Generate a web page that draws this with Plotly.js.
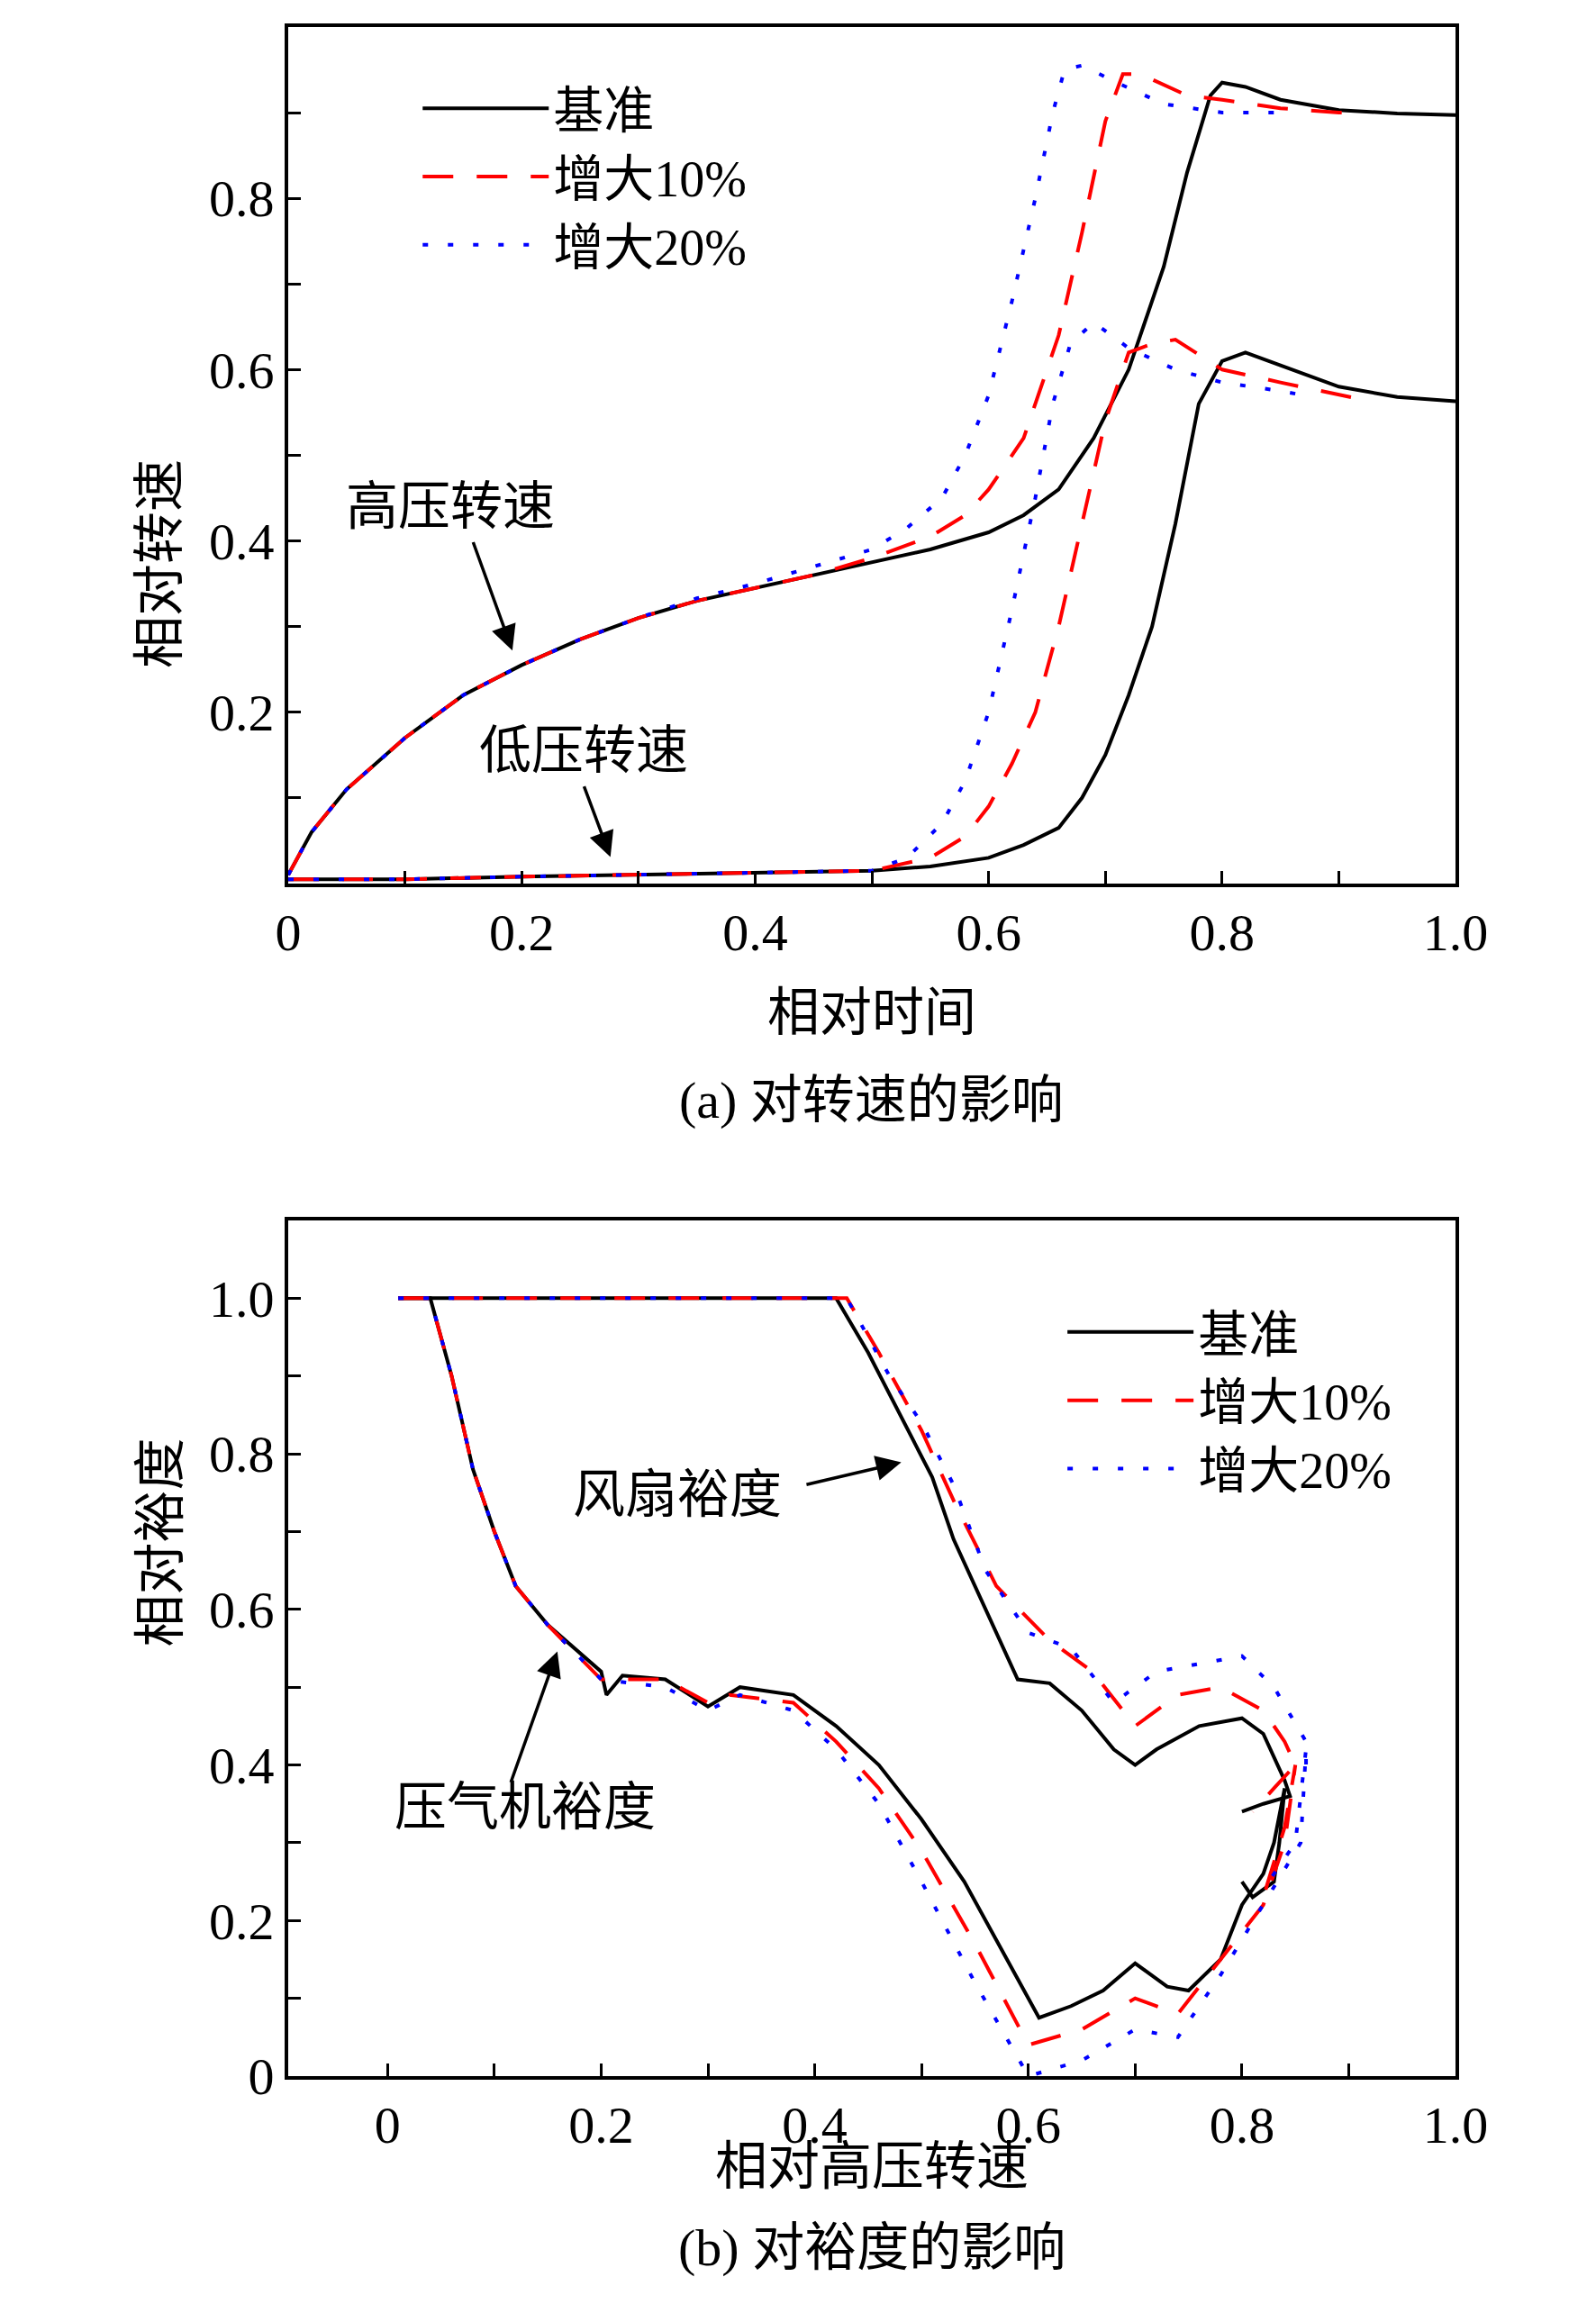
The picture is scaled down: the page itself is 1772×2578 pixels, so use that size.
<!DOCTYPE html>
<html><head><meta charset="utf-8">
<script src="https://cdn.plot.ly/plotly-3.0.1.min.js"></script>
<style>body{margin:0}#chart{width:1772px;height:2578px}</style>
</head><body><div id="chart"></div>
<script>
// (a) speed vs relative time
const hpBaseX = [0,0.02,0.05,0.1,0.15,0.2,0.25,0.3,0.35,0.4,0.45,0.5,0.55,0.6,0.63,0.66,0.69,0.72,0.75,0.77,0.79,0.8,0.82,0.85,0.9,0.95,1.0];
const hpBaseY = [0.01,0.06,0.11,0.17,0.22,0.255,0.285,0.31,0.33,0.345,0.36,0.375,0.39,0.41,0.43,0.46,0.52,0.6,0.72,0.83,0.92,0.935,0.93,0.915,0.903,0.899,0.897];
const hp10X = [0,0.02,0.05,0.1,0.15,0.2,0.25,0.3,0.35,0.4,0.45,0.5,0.55,0.58,0.6,0.63,0.66,0.68,0.7,0.715,0.73,0.77,0.8,0.85,0.9,0.92];
const hp10Y = [0.01,0.06,0.11,0.17,0.22,0.255,0.285,0.31,0.33,0.345,0.36,0.38,0.405,0.43,0.46,0.52,0.64,0.76,0.89,0.945,0.945,0.92,0.915,0.905,0.9,0.9];
const hp20X = [0,0.02,0.05,0.1,0.15,0.2,0.25,0.3,0.35,0.4,0.45,0.5,0.53,0.56,0.58,0.6,0.62,0.64,0.655,0.665,0.68,0.71,0.75,0.8,0.85];
const hp20Y = [0.01,0.06,0.11,0.17,0.22,0.255,0.285,0.31,0.333,0.35,0.37,0.39,0.415,0.45,0.5,0.57,0.68,0.8,0.9,0.95,0.955,0.935,0.91,0.9,0.9];
const lpBaseX = [0,0.1,0.2,0.3,0.4,0.5,0.55,0.6,0.63,0.66,0.68,0.7,0.72,0.74,0.76,0.78,0.8,0.82,0.85,0.9,0.95,1.0];
const lpBaseY = [0.005,0.005,0.008,0.01,0.012,0.015,0.02,0.03,0.045,0.065,0.1,0.15,0.22,0.3,0.42,0.56,0.61,0.62,0.605,0.58,0.568,0.563];
const lp10X = [0,0.1,0.2,0.3,0.4,0.5,0.55,0.58,0.6,0.62,0.64,0.66,0.68,0.7,0.72,0.74,0.76,0.8,0.85,0.9,0.92];
const lp10Y = [0.005,0.005,0.008,0.01,0.012,0.015,0.03,0.055,0.09,0.14,0.2,0.3,0.42,0.54,0.62,0.63,0.635,0.6,0.585,0.57,0.565];
const lp20X = [0,0.1,0.2,0.3,0.4,0.5,0.53,0.56,0.58,0.6,0.62,0.64,0.655,0.67,0.69,0.72,0.76,0.8,0.85,0.87];
const lp20Y = [0.005,0.005,0.008,0.01,0.012,0.015,0.03,0.07,0.12,0.2,0.32,0.45,0.56,0.63,0.655,0.625,0.6,0.585,0.575,0.57];

// (b) margin vs relative HP speed
const fanBaseX = [0.01,0.42,0.45,0.48,0.51,0.53,0.56,0.59,0.62,0.65,0.68,0.7,0.72,0.76,0.8,0.82,0.84,0.845,0.82,0.8];
const fanBaseY = [1,1,0.93,0.85,0.77,0.69,0.6,0.51,0.505,0.47,0.42,0.4,0.42,0.45,0.46,0.44,0.38,0.36,0.35,0.34];
const fan10X = [0.01,0.43,0.46,0.5,0.53,0.57,0.62,0.66,0.7,0.74,0.78,0.82,0.84,0.85,0.83,0.81];
const fan10Y = [1,1,0.93,0.83,0.74,0.63,0.56,0.52,0.45,0.49,0.5,0.47,0.43,0.4,0.37,0.34];
const fan20X = [0.01,0.43,0.47,0.5,0.53,0.56,0.6,0.64,0.68,0.72,0.76,0.8,0.83,0.86,0.86];
const fan20Y = [1,1,0.9,0.84,0.76,0.65,0.57,0.55,0.48,0.52,0.53,0.54,0.5,0.43,0.38];
const compBaseX = [0.01,0.04,0.06,0.08,0.1,0.12,0.15,0.2,0.205,0.22,0.26,0.3,0.33,0.38,0.42,0.46,0.5,0.54,0.58,0.61,0.64,0.67,0.7,0.73,0.75,0.78,0.8,0.82,0.83,0.84,0.835,0.83,0.81,0.8];
const compBaseY = [1,1,0.9,0.78,0.7,0.63,0.58,0.52,0.49,0.515,0.51,0.475,0.5,0.49,0.45,0.4,0.33,0.25,0.15,0.075,0.09,0.11,0.145,0.115,0.11,0.15,0.22,0.26,0.3,0.37,0.3,0.25,0.23,0.25];
const comp10X = [0.01,0.04,0.06,0.08,0.1,0.12,0.15,0.2,0.26,0.3,0.32,0.38,0.42,0.46,0.5,0.55,0.6,0.65,0.7,0.74,0.78,0.82,0.84,0.85,0.84,0.82,0.81];
const comp10Y = [1,1,0.9,0.78,0.7,0.63,0.58,0.51,0.51,0.48,0.49,0.48,0.43,0.37,0.29,0.17,0.04,0.06,0.1,0.08,0.15,0.22,0.3,0.4,0.32,0.23,0.24];
const comp20X = [0.01,0.04,0.06,0.08,0.1,0.12,0.15,0.2,0.26,0.3,0.33,0.38,0.42,0.46,0.5,0.55,0.6,0.65,0.7,0.74,0.78,0.82,0.855,0.86,0.85,0.82];
const comp20Y = [1,1,0.9,0.78,0.7,0.63,0.58,0.51,0.5,0.47,0.49,0.47,0.42,0.35,0.25,0.12,0.0,0.02,0.06,0.05,0.13,0.22,0.3,0.42,0.3,0.24];

const names = ['基准','增大10%','增大20%'];
const styles = [
  {color:'black', width:4, dash:'solid'},
  {color:'#ff0000', width:4, dash:'34px,26px'},
  {color:'#0000ff', width:4, dash:'6px,22px'}
];
function tr(x, y, i, ax, leg, show) {
  return {x:x, y:y, xaxis:ax[0], yaxis:ax[1], mode:'lines', name:names[i],
    line:styles[i], showlegend:show, legend:leg};
}
const axA = ['x','y'], axB = ['x2','y2'];
const data = [
  tr(hpBaseX,hpBaseY,0,axA,'legend',true), tr(hp10X,hp10Y,1,axA,'legend',true), tr(hp20X,hp20Y,2,axA,'legend',true),
  tr(lpBaseX,lpBaseY,0,axA,'legend',false), tr(lp10X,lp10Y,1,axA,'legend',false), tr(lp20X,lp20Y,2,axA,'legend',false),
  tr(fanBaseX,fanBaseY,0,axB,'legend2',true), tr(fan10X,fan10Y,1,axB,'legend2',true), tr(fan20X,fan20Y,2,axB,'legend2',true),
  tr(compBaseX,compBaseY,0,axB,'legend2',false), tr(comp10X,comp10Y,1,axB,'legend2',false), tr(comp20X,comp20Y,2,axB,'legend2',false)
];

const FONT = 'Liberation Serif, Noto Sans CJK SC';
const tenths = [0,0.1,0.2,0.3,0.4,0.5,0.6,0.7,0.8,0.9,1.0];
const lbl = v => (Math.round(v*10)%2 ? '' : (v===0 ? '0' : v.toFixed(1)));
function axis(domain, range, anchor, vals, texts) {
  return {domain:domain, range:range, anchor:anchor, showline:true, mirror:true, linecolor:'black', linewidth:4,
    ticks:'inside', ticklen:14, tickwidth:3, tickcolor:'black', showgrid:false, zeroline:false,
    tickvals:vals, ticktext:texts, tickfont:{family:FONT, size:58, color:'black'}};
}
const xd = [0.1806, 0.912];
const topY = tenths.slice(1);
const layout = {
  width:1772, height:2578, margin:{l:0,r:0,t:0,b:0}, paper_bgcolor:'white', plot_bgcolor:'white',
  font:{family:FONT, color:'black'},
  xaxis: axis(xd, [0,1], 'y', tenths, tenths.map(lbl)),
  yaxis: axis([0.6195,0.9884], [0,1], 'x', topY, topY.map(v => (Math.round(v*10)%2 ? '' : v.toFixed(1)))),
  xaxis2: axis(xd, [-0.093,1.0], 'y2', tenths, tenths.map(lbl)),
  yaxis2: axis([0.1059,0.4744], [0,1.1], 'x2', tenths, tenths.map(lbl)),
  legend:{x:0.262, y:0.97, xanchor:'left', yanchor:'top', bgcolor:'rgba(0,0,0,0)', itemwidth:140,
    tracegroupgap:0, font:{family:FONT, size:56, color:'black'}},
  legend2:{x:0.666, y:0.443, xanchor:'left', yanchor:'top', bgcolor:'rgba(0,0,0,0)', itemwidth:140,
    font:{family:FONT, size:56, color:'black'}},
  annotations:[]
};
const A = layout.annotations;
function txt(x, y, t, ref, extra) {
  A.push(Object.assign({x:x, y:y, xref:ref[0], yref:ref[1], text:t, showarrow:false,
    font:{family:FONT, size:58, color:'black'}}, extra||{}));
}
function arrow(x0, y0, x1, y1, ref) {
  A.push({x:x1, y:y1, ax:x0, ay:y0, xref:ref[0], yref:ref[1], axref:ref[0], ayref:ref[1], text:'',
    showarrow:true, arrowhead:2, arrowsize:1.6, arrowwidth:3.5, arrowcolor:'black'});
}
const pa = ['paper','paper'];
txt(0.139, 0.44, '高压转速', axA);
arrow(0.158, 0.40, 0.192, 0.272, axA);
txt(0.253, 0.155, '低压转速', axA);
arrow(0.253, 0.115, 0.276, 0.031, axA);
txt(0.271, 0.747, '风扇裕度', axB);
arrow(0.391, 0.76, 0.481, 0.789, axB);
txt(0.129, 0.346, '压气机裕度', axB);
arrow(0.115, 0.376, 0.159, 0.546, axB);
txt(0.546, 0.564, '相对时间', pa);
txt(0.546, 0.526, '(a) 对转速的影响', pa);
txt(0.081, 0.803, '相对转速', pa, {textangle:-90});
txt(0.546, 0.0535, '相对高压转速', pa);
txt(0.546, 0.0186, '(b) 对裕度的影响', pa);
txt(0.081, 0.29, '相对裕度', pa, {textangle:-90});

Plotly.newPlot('chart', data, layout, {staticPlot:true});
</script>
</body></html>
